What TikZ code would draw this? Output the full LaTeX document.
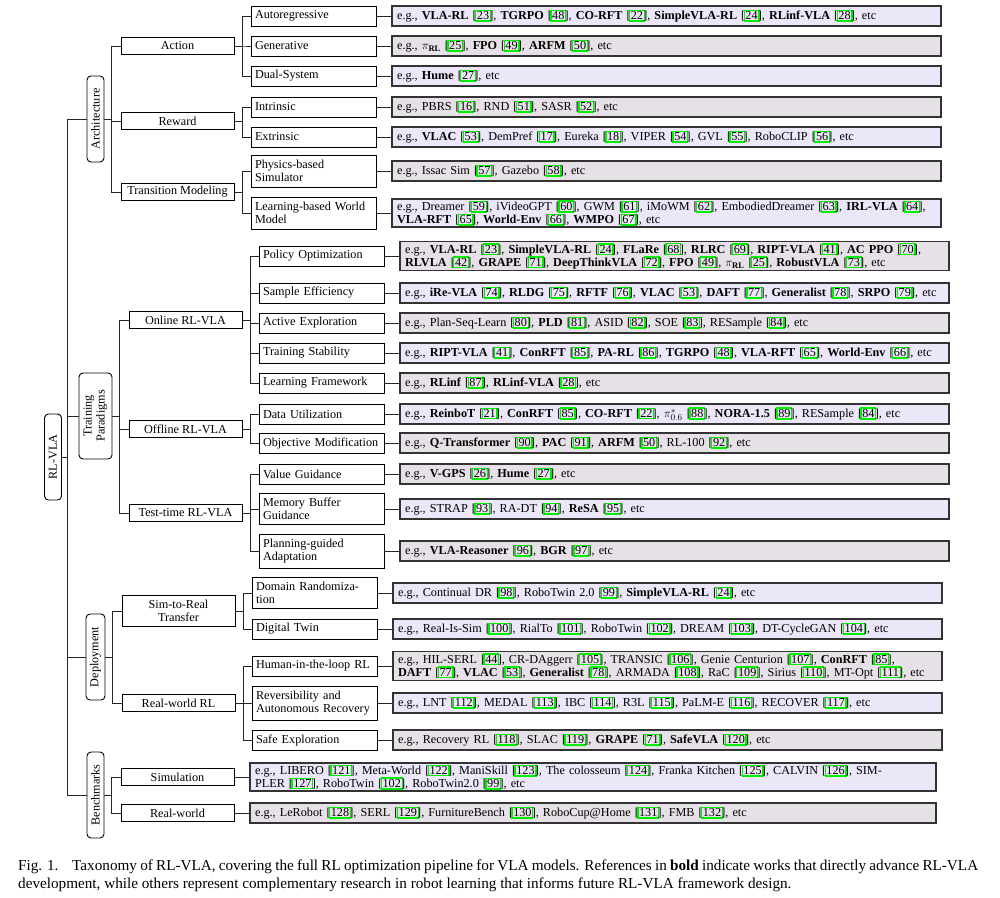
\documentclass[tikz,border=0pt]{standalone}
\usepackage{fontspec}
\setmainfont{Liberation Serif}
\usepackage{xcolor}
\usepackage{graphicx}
\usetikzlibrary{positioning}

\definecolor{leafA}{HTML}{EBE6F8}
\definecolor{leafB}{HTML}{E6E1E6}
\definecolor{refgreen}{HTML}{00EE00}
\newcommand\refbox[1]{[\kern-1.7pt{\color{refgreen}\setlength\fboxrule{1.3pt}\setlength\fboxsep{0.6pt}\fbox{\color{black}#1}}\kern-1.7pt]}

\tikzset{
  catbox/.style={draw, rounded corners=4pt, line width=0.9pt, inner sep=1pt, align=center},
  midbox/.style={draw, line width=0.9pt, minimum width=113pt, minimum height=17pt, inner sep=1pt, align=center},
  subbox/.style={draw, line width=0.9pt, text width=117pt, minimum height=20pt, inner xsep=4pt, inner ysep=1pt, align=left},
  leafbox/.style={draw=black!80, line width=1.3pt, text width=539pt, minimum height=20pt, inner xsep=5pt, inner ysep=1.5pt, align=left, right=15pt of #1},
  link/.style={draw=black!85, line width=1pt}
}

\begin{document}
\begin{tikzpicture}[x=1pt, y=-1pt, font=\fontsize{12.2}{13}\selectfont]
\useasboundingbox (0,0) rectangle (1000,897);

% root and main branches
\node[catbox, minimum width=17pt, minimum height=86pt] (rl) at (53,457) {\rotatebox{90}{RL-VLA}};
\node[catbox, minimum width=17pt, minimum height=86pt] (arch) at (95.5,119) {\rotatebox{90}{Architecture}};
\node[catbox, minimum width=33pt, minimum height=86pt] (train) at (95.5,416) {\rotatebox{90}{\begin{tabular}{@{}c@{}}Training\\Paradigms\end{tabular}}};
\node[catbox, minimum width=19pt, minimum height=86pt] (deploy) at (95.5,657) {\rotatebox{90}{Deployment}};
\node[catbox, minimum width=17pt, minimum height=86pt] (bench) at (95.5,795) {\rotatebox{90}{Benchmarks}};

% second level
\node[midbox] (action) at (177.5,46) {Action};
\node[midbox] (reward) at (177.5,121) {Reward};
\node[midbox] (trans) at (177.5,192) {Transition Modeling};
\node[midbox] (online) at (185.5,320) {Online RL-VLA};
\node[midbox] (offline) at (185.5,429) {Offline RL-VLA};
\node[midbox] (testtime) at (185.5,513) {Test-time RL-VLA};
\node[midbox, minimum height=31pt] (simreal) at (178.5,611) {Sim-to-Real\\Transfer};
\node[midbox] (realrl) at (178.5,703) {Real-world RL};
\node[midbox] (simu) at (177.5,777) {Simulation};
\node[midbox] (realw) at (177.5,813) {Real-world};

% third level
\node[subbox] (autoreg) at (313.5,16) {Autoregressive};
\node[subbox] (gener) at (313.5,46) {Generative};
\node[subbox] (dual) at (313.5,76) {Dual-System};
\node[subbox] (intr) at (313.5,107) {Intrinsic};
\node[subbox] (extr) at (313.5,137) {Extrinsic};
\node[subbox, minimum height=32pt] (phys) at (313.5,171) {Physics-based\\Simulator};
\node[subbox, minimum height=32pt] (lbwm) at (313.5,213) {Learning-based World\\Model};

\node[subbox] (polopt) at (321.5,256) {Policy Optimization};
\node[subbox] (sameff) at (321.5,293) {Sample Efficiency};
\node[subbox] (actexp) at (321.5,323) {Active Exploration};
\node[subbox] (trstab) at (321.5,353) {Training Stability};
\node[subbox] (lfw) at (321.5,383) {Learning Framework};
\node[subbox] (datau) at (321.5,414) {Data Utilization};
\node[subbox] (objmod) at (321.5,443) {Objective Modification};
\node[subbox] (valg) at (321.5,474) {Value Guidance};
\node[subbox, minimum height=31pt] (membuf) at (321.5,509) {Memory Buffer\\Guidance};
\node[subbox, minimum height=34pt] (plang) at (321.5,551) {Planning-guided\\Adaptation};

\node[subbox, minimum height=31pt] (domr) at (314.5,593) {Domain Randomiza-\\tion};
\node[subbox] (dtwin) at (314.5,629) {Digital Twin};
\node[subbox] (hitl) at (314.5,666) {Human-in-the-loop RL};
\node[subbox, minimum height=34pt] (rever) at (314.5,703) {Reversibility and\\Autonomous Recovery};
\node[subbox] (safe) at (314.5,740) {Safe Exploration};

% examples
\node[leafbox=autoreg, fill=leafA] (autoreg-e) {e.g., \textbf{VLA-RL} \refbox{23}, \textbf{TGRPO} \refbox{48}, \textbf{CO-RFT} \refbox{22}, \textbf{SimpleVLA-RL} \refbox{24}, \textbf{RLinf-VLA} \refbox{28}, etc};
\node[leafbox=gener, fill=leafB] (gener-e) {e.g., $\pi_{\mathbf{RL}}$ \refbox{25}, \textbf{FPO} \refbox{49}, \textbf{ARFM} \refbox{50}, etc};
\node[leafbox=dual, fill=leafA] (dual-e) {e.g., \textbf{Hume} \refbox{27}, etc};
\node[leafbox=intr, fill=leafB] (intr-e) {e.g., PBRS \refbox{16}, RND \refbox{51}, SASR \refbox{52}, etc};
\node[leafbox=extr, fill=leafA] (extr-e) {e.g., \textbf{VLAC} \refbox{53}, DemPref \refbox{17}, Eureka \refbox{18}, VIPER \refbox{54}, GVL \refbox{55}, RoboCLIP \refbox{56}, etc};
\node[leafbox=phys, fill=leafB] (phys-e) {e.g., Issac Sim \refbox{57}, Gazebo \refbox{58}, etc};
\node[leafbox=lbwm, fill=leafA] (lbwm-e) {e.g., Dreamer \refbox{59}, iVideoGPT \refbox{60}, GWM \refbox{61}, iMoWM \refbox{62}, EmbodiedDreamer \refbox{63}, \textbf{IRL-VLA} \refbox{64},\\ \textbf{VLA-RFT} \refbox{65}, \textbf{World-Env} \refbox{66}, \textbf{WMPO} \refbox{67}, etc};

\node[leafbox=polopt, fill=leafB] (polopt-e) {e.g., \textbf{VLA-RL} \refbox{23}, \textbf{SimpleVLA-RL} \refbox{24}, \textbf{FLaRe} \refbox{68}, \textbf{RLRC} \refbox{69}, \textbf{RIPT-VLA} \refbox{41}, \textbf{AC PPO} \refbox{70},\\ \textbf{RLVLA} \refbox{42}, \textbf{GRAPE} \refbox{71}, \textbf{DeepThinkVLA} \refbox{72}, \textbf{FPO} \refbox{49}, $\pi_{\mathbf{RL}}$ \refbox{25}, \textbf{RobustVLA} \refbox{73}, etc};
\node[leafbox=sameff, fill=leafA] (sameff-e) {e.g., \textbf{iRe-VLA} \refbox{74}, \textbf{RLDG} \refbox{75}, \textbf{RFTF} \refbox{76}, \textbf{VLAC} \refbox{53}, \textbf{DAFT} \refbox{77}, \textbf{Generalist} \refbox{78}, \textbf{SRPO} \refbox{79}, etc};
\node[leafbox=actexp, fill=leafB] (actexp-e) {e.g., Plan-Seq-Learn \refbox{80}, \textbf{PLD} \refbox{81}, ASID \refbox{82}, SOE \refbox{83}, RESample \refbox{84}, etc};
\node[leafbox=trstab, fill=leafA] (trstab-e) {e.g., \textbf{RIPT-VLA} \refbox{41}, \textbf{ConRFT} \refbox{85}, \textbf{PA-RL} \refbox{86}, \textbf{TGRPO} \refbox{48}, \textbf{VLA-RFT} \refbox{65}, \textbf{World-Env} \refbox{66}, etc};
\node[leafbox=lfw, fill=leafB] (lfw-e) {e.g., \textbf{RLinf} \refbox{87}, \textbf{RLinf-VLA} \refbox{28}, etc};
\node[leafbox=datau, fill=leafA] (datau-e) {e.g., \textbf{ReinboT} \refbox{21}, \textbf{ConRFT} \refbox{85}, \textbf{CO-RFT} \refbox{22}, $\pi^{*}_{0.6}$ \refbox{88}, \textbf{NORA-1.5} \refbox{89}, RESample \refbox{84}, etc};
\node[leafbox=objmod, fill=leafB] (objmod-e) {e.g., \textbf{Q-Transformer} \refbox{90}, \textbf{PAC} \refbox{91}, \textbf{ARFM} \refbox{50}, RL-100 \refbox{92}, etc};
\node[leafbox=valg, fill=leafB] (valg-e) {e.g., \textbf{V-GPS} \refbox{26}, \textbf{Hume} \refbox{27}, etc};
\node[leafbox=membuf, fill=leafA] (membuf-e) {e.g., STRAP \refbox{93}, RA-DT \refbox{94}, \textbf{ReSA} \refbox{95}, etc};
\node[leafbox=plang, fill=leafB] (plang-e) {e.g., \textbf{VLA-Reasoner} \refbox{96}, \textbf{BGR} \refbox{97}, etc};

\node[leafbox=domr, fill=leafA] (domr-e) {e.g., Continual DR \refbox{98}, RoboTwin 2.0 \refbox{99}, \textbf{SimpleVLA-RL} \refbox{24}, etc};
\node[leafbox=dtwin, fill=leafA] (dtwin-e) {e.g., Real-Is-Sim \refbox{100}, RialTo \refbox{101}, RoboTwin \refbox{102}, DREAM \refbox{103}, DT-CycleGAN \refbox{104}, etc};
\node[leafbox=hitl, fill=leafB] (hitl-e) {e.g., HIL-SERL \refbox{44}, CR-DAggerr \refbox{105}, TRANSIC \refbox{106}, Genie Centurion \refbox{107}, \textbf{ConRFT} \refbox{85},\\ \textbf{DAFT} \refbox{77}, \textbf{VLAC} \refbox{53}, \textbf{Generalist} \refbox{78}, ARMADA \refbox{108}, RaC \refbox{109}, Sirius \refbox{110}, MT-Opt \refbox{111}, etc};
\node[leafbox=rever, fill=leafA] (rever-e) {e.g., LNT \refbox{112}, MEDAL \refbox{113}, IBC \refbox{114}, R3L \refbox{115}, PaLM-E \refbox{116}, RECOVER \refbox{117}, etc};
\node[leafbox=safe, fill=leafB] (safe-e) {e.g., Recovery RL \refbox{118}, SLAC \refbox{119}, \textbf{GRAPE} \refbox{71}, \textbf{SafeVLA} \refbox{120}, etc};

\node[leafbox=simu, fill=leafA, text width=676pt] (simu-e) {e.g., LIBERO \refbox{121}, Meta-World \refbox{122}, ManiSkill \refbox{123}, The colosseum \refbox{124}, Franka Kitchen \refbox{125}, CALVIN \refbox{126}, SIM-\\PLER \refbox{127}, RoboTwin \refbox{102}, RoboTwin2.0 \refbox{99}, etc};
\node[leafbox=realw, fill=leafB, text width=676pt] (realw-e) {e.g., LeRobot \refbox{128}, SERL \refbox{129}, FurnitureBench \refbox{130}, RoboCup@Home \refbox{131}, FMB \refbox{132}, etc};

% connectors
\foreach \c in {arch,train,deploy,bench}
  \draw[link] (rl.east) -- ++(6,0) |- (\c.west);
\foreach \p/\c in {arch/action,arch/reward,arch/trans,train/online,train/offline,train/testtime,deploy/simreal,deploy/realrl,bench/simu,bench/realw}
  \draw[link] (\p.east) -- ++(7,0) |- (\c.west);
\foreach \p/\c in {action/autoreg,action/gener,action/dual,reward/intr,reward/extr,trans/phys,trans/lbwm,
  online/polopt,online/sameff,online/actexp,online/trstab,online/lfw,offline/datau,offline/objmod,
  testtime/valg,testtime/membuf,testtime/plang,simreal/domr,simreal/dtwin,realrl/hitl,realrl/rever,realrl/safe}
  \draw[link] (\p.east) -- ++(8,0) |- (\c.west);
\foreach \c in {autoreg,gener,dual,intr,extr,phys,lbwm,polopt,sameff,actexp,trstab,lfw,datau,objmod,valg,membuf,plang,domr,dtwin,hitl,rever,safe,simu,realw}
  \draw[link] (\c.east) -- (\c-e.west);

% caption
\node[anchor=north west, text width=960pt, align=justify, inner sep=0pt, font=\fontsize{15.2}{17.8}\selectfont] (cap) at (18,860)
  {Fig. 1.\hspace{0.9em}Taxonomy of RL-VLA, covering the full RL optimization pipeline for VLA models. References in \textbf{bold} indicate works that directly advance RL-VLA\linebreak development, while others represent complementary research in robot learning that informs future RL-VLA framework design.};
\end{tikzpicture}
\end{document}
